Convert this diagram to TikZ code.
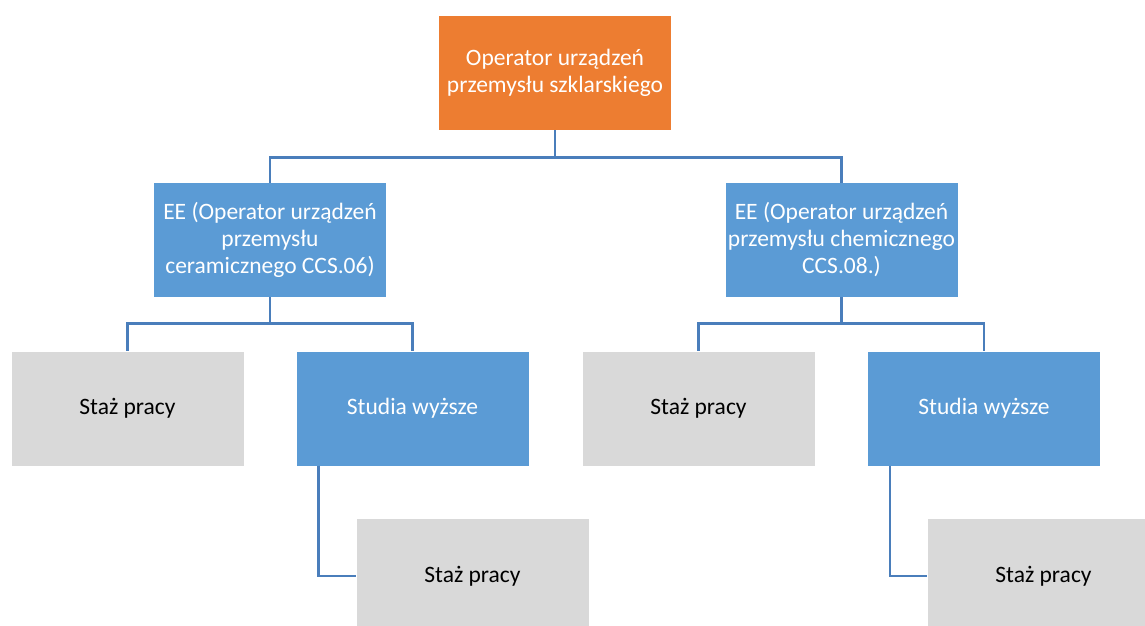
\documentclass[tikz,border=0pt]{standalone}
\usepackage{fontspec}
\setmainfont{Carlito}
\definecolor{orng}{HTML}{ED7D31}
\definecolor{blu}{HTML}{5B9BD5}
\definecolor{gry}{HTML}{D9D9D9}
\definecolor{lin}{HTML}{4A7EBB}
\begin{document}
\begin{tikzpicture}[x=1pt,y=-1pt,
  box/.style={rectangle,minimum width=232pt,minimum height=114pt,inner sep=1pt,align=center,
    font=\fontsize{23.5}{27}\selectfont},
  orangebox/.style={box,fill=orng,text=white},
  bluebox/.style={box,fill=blu,text=white},
  graybox/.style={box,fill=gry,text=black},
  conn/.style={draw=lin,line width=2.6pt}]
\useasboundingbox (0,0) rectangle (1145,626);
\clip (0,0) rectangle (1145,626);
\node[orangebox] (top) at (555,73) {Operator urządzeń\\przemysłu szklarskiego};
\node[bluebox] (lm) at (270,240) {EE (Operator urządzeń\\przemysłu\\ceramicznego CCS.06)};
\node[bluebox] (rm) at (841.5,240) {EE (Operator urządzeń\\przemysłu chemicznego\\CCS.08.)};
\node[graybox] (lg) at (127.5,408.5) {Staż pracy};
\node[bluebox] (lb) at (412.5,408.5) {Studia wyższe};
\node[graybox] (rg) at (698.5,408.5) {Staż pracy};
\node[bluebox] (rb) at (984,408.5) {Studia wyższe};
\node[graybox] (lls) at (472.5,576) {Staż pracy};
\node[graybox] (rrs) at (1043.5,576) {Staż pracy};
\draw[conn] (top.south) -- ++(0,27) -| (lm.north);
\draw[conn] (top.south) -- ++(0,27) -| (rm.north);
\draw[conn] (lm.south) -- ++(0,26) -| (lg.north);
\draw[conn] (lm.south) -- ++(0,26) -| (lb.north);
\draw[conn] (rm.south) -- ++(0,26) -| (rg.north);
\draw[conn] (rm.south) -- ++(0,26) -| (rb.north);
\coordinate (lbx) at ([xshift=22pt]lb.south west);
\coordinate (rbx) at ([xshift=22pt]rb.south west);
\draw[conn] (lbx) |- (lls.west);
\draw[conn] (rbx) |- (rrs.west);
\end{tikzpicture}
\end{document}
